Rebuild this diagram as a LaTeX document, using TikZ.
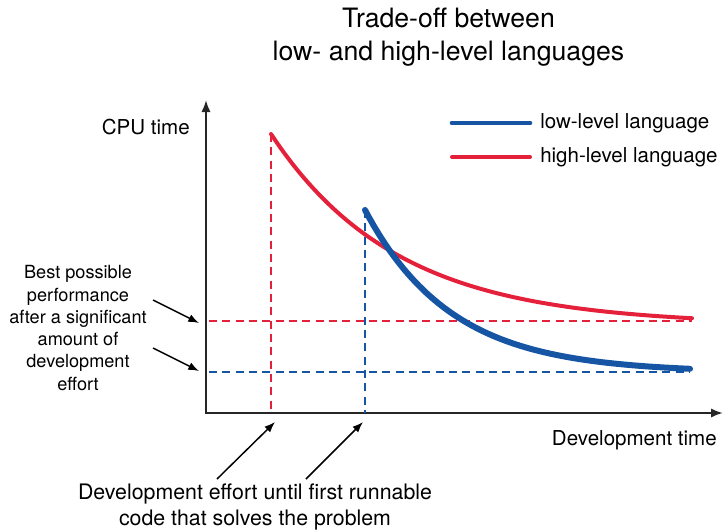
\documentclass[tikz,border=0pt]{standalone}
\usepackage{fontspec}
\setmainfont{TeX Gyre Heros}
\usetikzlibrary{arrows.meta}
\definecolor{hlred}{RGB}{228,32,58}
\definecolor{llblue}{RGB}{22,84,164}
\tikzset{
  axis/.style={line width=1.6pt, -{Latex[length=9pt,width=7pt]}, black!85},
  guide/.style={line width=1.4pt, dash pattern=on 6pt off 4pt},
  pointer/.style={line width=1.1pt, -{Latex[length=8pt,width=6pt]}, black},
  curvehigh/.style={hlred, line width=3pt, line cap=round},
  curvelow/.style={llblue, line width=4.5pt, line cap=round},
  txt/.style={inner sep=0pt, align=center},
  labelfont/.style={font=\fontsize{15.4}{18}\selectfont},
}
\begin{document}
\begin{tikzpicture}[x=0.75pt, y=-0.75pt]
\useasboundingbox (0,0) rectangle (726,532);

% title
\node[txt, font=\fontsize{20}{24.5}\selectfont] (title) at (448.5,37)
  {Trade-off between\\low- and high-level languages};

% axes
\coordinate (origin) at (206,413);
\coordinate (ytop) at (206,100);
\coordinate (xend) at (723,413);
\draw[axis] (206,414) -- (ytop);
\draw[axis] (205,413) -- (xend);
\node[txt, anchor=east, labelfont] (ylab) at (190,127) {CPU time};
\node[txt, anchor=east, labelfont] (xlab) at (717,440) {Development time};

% reference levels and first-runnable markers
\coordinate (rtop) at (271,134);
\coordinate (rbase) at (271,413);
\coordinate (btop) at (365,210);
\coordinate (bbase) at (365,413);
\coordinate (rleft) at (209,321);
\coordinate (rright) at (692,321);
\coordinate (bleft) at (209,372);
\coordinate (bright) at (690,372);
\draw[guide, hlred] (rtop) -- (rbase);
\draw[guide, llblue] (btop) -- (bbase);
\draw[guide, hlred] (rleft) -- (rright);
\draw[guide, llblue] (bleft) -- (bright);

% curves: CPU time decaying with development time
\draw[curvehigh] (271,134) -- plot[domain=271:692, samples=90] (\x, {325-191*exp(-(\x-271)/126)});
\draw[curvelow] (365,210) -- plot[domain=365:690, samples=80] (\x, {372.5-162.5*exp(-(\x-365)/86)});

% legend
\coordinate (lb1) at (452,123);
\coordinate (lb2) at (530,123);
\coordinate (lr1) at (452,157);
\coordinate (lr2) at (530,157);
\draw[curvelow, line width=3.5pt] (lb1) -- (lb2);
\draw[curvehigh] (lr1) -- (lr2);
\node[txt, anchor=west, labelfont] (leglow) at (540,123) {low-level language};
\node[txt, anchor=west, labelfont] (leghigh) at (540,157) {high-level language};

% left annotation
\node[txt, font=\fontsize{13.6}{16.7}\selectfont] (best) at (78,328)
  {Best possible\\performance\\after a significant\\amount of\\development\\effort};
\coordinate (ps1) at (153,300);
\coordinate (pe1) at (199,323);
\coordinate (ps2) at (153,348);
\coordinate (pe2) at (199,371);
\draw[pointer] (ps1) -- (pe1);
\draw[pointer] (ps2) -- (pe2);

% bottom annotation
\node[txt, font=\fontsize{16}{20}\selectfont] (first) at (255,507)
  {Development effort until first runnable\\code that solves the problem};
\coordinate (qs1) at (217,479);
\coordinate (qe1) at (275,422);
\coordinate (qs2) at (306,479);
\coordinate (qe2) at (363,422);
\draw[pointer] (qs1) -- (qe1);
\draw[pointer] (qs2) -- (qe2);
\end{tikzpicture}
\end{document}
